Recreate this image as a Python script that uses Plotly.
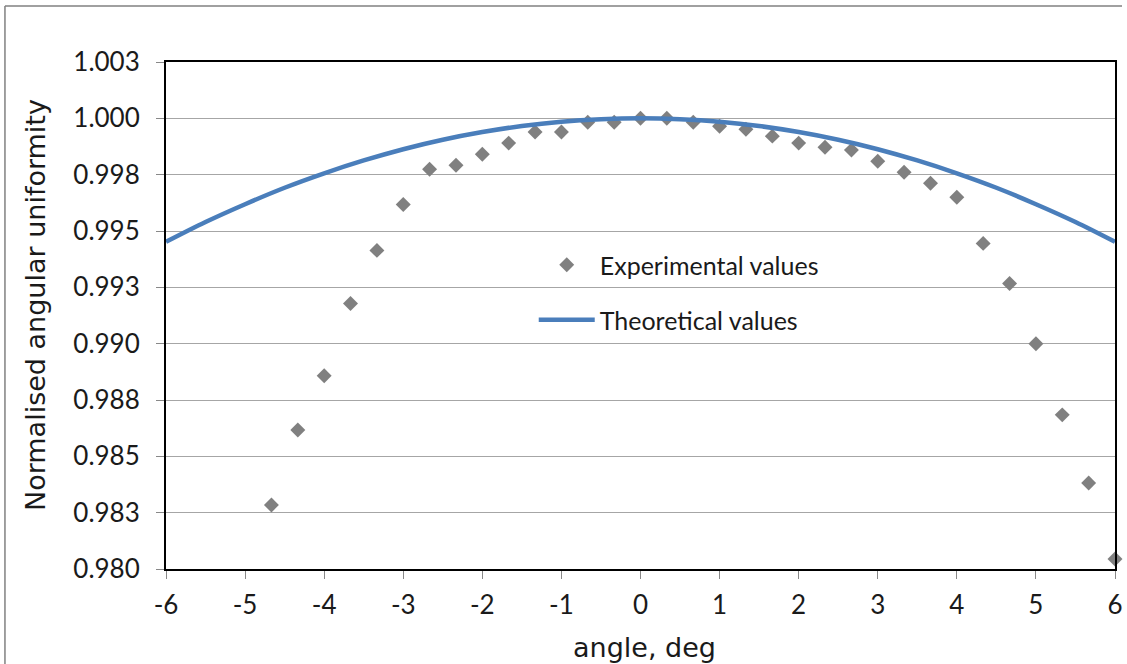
import plotly.graph_objects as go

# Measured angular uniformity (normalised), every 1/3 degree
exp_angle = [-4.667, -4.333, -4.0, -3.667, -3.333, -3.0, -2.667, -2.333, -2.0, -1.667,
             -1.333, -1.0, -0.667, -0.333, 0.0, 0.333, 0.667, 1.0, 1.333, 1.667,
             2.0, 2.333, 2.667, 3.0, 3.333, 3.667, 4.0, 4.333, 4.667, 5.0,
             5.333, 5.667, 6.0]
exp_values = [0.98284, 0.98617, 0.98858, 0.99178, 0.99414, 0.99618, 0.99774, 0.99792, 0.99841, 0.99890,
              0.99939, 0.99939, 0.99983, 0.99983, 1.00000, 1.00000, 0.99983, 0.99965, 0.99952, 0.99921,
              0.99890, 0.99872, 0.99859, 0.99810, 0.99761, 0.99712, 0.99650, 0.99445, 0.99267, 0.99000,
              0.98684, 0.98382, 0.98044]

# Theoretical curve
theo_angle = [-6.0, -5.5, -5.0, -4.5, -4.0, -3.5, -3.0, -2.5, -2.0, -1.5, -1.0, -0.5,
              0.0, 0.5, 1.0, 1.5, 2.0, 2.5, 3.0, 3.5, 4.0, 4.5, 5.0, 5.5, 6.0]
theo_values = [0.99452, 0.99540, 0.99619, 0.99692, 0.99756, 0.99813, 0.99863, 0.99905, 0.99939, 0.99966, 0.99985, 0.99996,
               1.00000, 0.99996, 0.99985, 0.99966, 0.99939, 0.99905, 0.99863, 0.99813, 0.99756, 0.99692, 0.99619, 0.99540, 0.99452]

y_ticks = [0.98, 0.9825, 0.985, 0.9875, 0.99, 0.9925, 0.995, 0.9975, 1.0, 1.0025]
y_tick_labels = ["0.980", "0.983", "0.985", "0.988", "0.990", "0.993", "0.995", "0.998", "1.000", "1.003"]
x_ticks = [-6, -5, -4, -3, -2, -1, 0, 1, 2, 3, 4, 5, 6]
x_tick_labels = ["-6", "-5", "-4", "-3", "-2", "-1", "0", "1", "2", "3", "4", "5", "6"]

TICK_FONT = "Lato, 'Noto Sans', sans-serif"
TITLE_FONT = "'DejaVu Sans', sans-serif"
TEXT = "#1a1a1a"

fig = go.Figure()
fig.add_trace(go.Scatter(
    x=exp_angle, y=exp_values, mode="markers", name="Experimental values",
    marker=dict(symbol="diamond", size=11.5, color="#808080"),
    legend="legend", showlegend=True, cliponaxis=False,
))
fig.add_trace(go.Scatter(
    x=theo_angle, y=theo_values, mode="lines", name="Theoretical values",
    line=dict(color="#4a7ebb", width=4.5, shape="spline"),
    legend="legend2", showlegend=True,
))

legend_common = dict(
    xanchor="left", yanchor="middle", bgcolor="rgba(0,0,0,0)",
    font=dict(family=TICK_FONT, size=25, color=TEXT), itemwidth=56,
)
axis_common = dict(
    showline=True, mirror=True, linecolor="black", linewidth=2, zeroline=False,
    ticks="outside", ticklen=8, tickcolor="#888888", tickwidth=1,
    tickfont=dict(family=TICK_FONT, size=26, color=TEXT), automargin=False,
)
fig.update_layout(
    width=1127, height=664,
    margin=dict(l=166, r=12, t=62, b=95),
    paper_bgcolor="white", plot_bgcolor="white",
    font=dict(family=TICK_FONT, color=TEXT),
    showlegend=True,
    legend=dict(x=0.3875, y=0.5996, **legend_common),
    legend2=dict(x=0.3875, y=0.491, **legend_common),
    xaxis=dict(
        range=[-6, 6], tickvals=x_ticks, ticktext=x_tick_labels, showgrid=False,
        ticklabelstandoff=4, **axis_common,
    ),
    yaxis=dict(
        range=[0.98, 1.0025], tickvals=y_ticks, ticktext=y_tick_labels,
        showgrid=True, gridcolor="#a6a6a6", gridwidth=1, ticklabelstandoff=11,
        **axis_common,
    ),
    annotations=[
        dict(text="angle, deg", xref="paper", yref="paper", x=0.5042, y=-0.1555,
             xanchor="center", yanchor="middle", showarrow=False,
             font=dict(family=TITLE_FONT, size=27, color=TEXT)),
        dict(text="Normalised angular uniformity", xref="paper", yref="paper", x=-0.1380, y=0.5207,
             xanchor="center", yanchor="middle", textangle=-90, showarrow=False,
             font=dict(family=TITLE_FONT, size=27, color=TEXT)),
    ],
    # chart-area frame: top and left edges
    shapes=[
        dict(type="line", xref="paper", yref="paper", x0=-0.1697, x1=1.0074, y0=1.1105, y1=1.1105,
             line=dict(color="#808080", width=1.5)),
        dict(type="line", xref="paper", yref="paper", x0=-0.1697, x1=-0.1697, y0=1.1105, y1=-0.19,
             line=dict(color="#808080", width=1.5)),
    ],
)

fig.write_html("out.html", config={"displayModeBar": False})
